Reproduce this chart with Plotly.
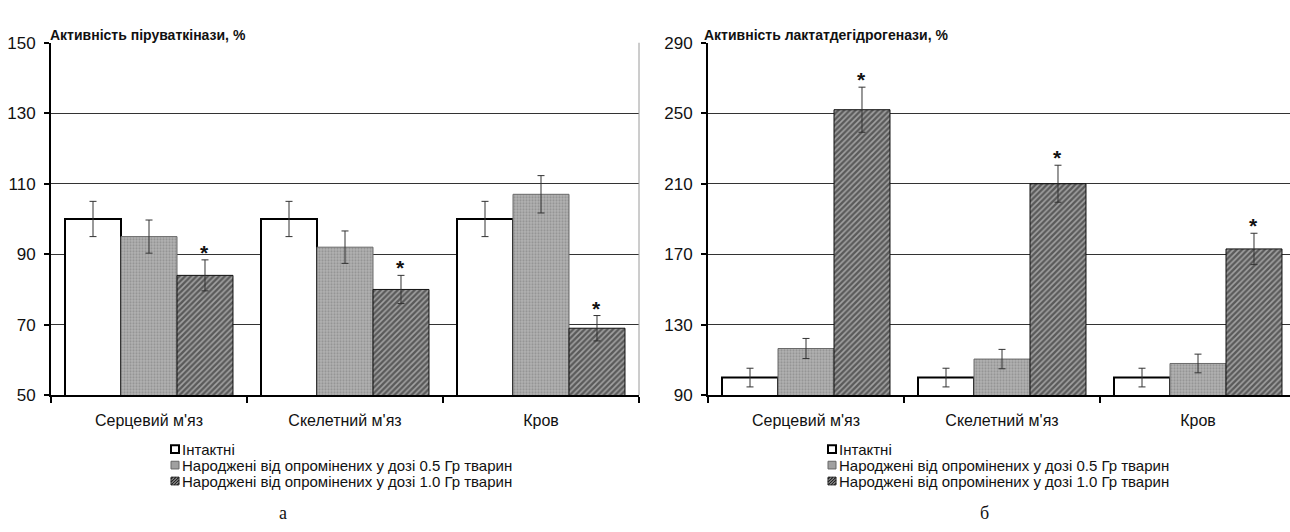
import plotly.graph_objects as go

W, H = 1290, 532

categories = ["Серцевий м'яз", "Скелетний м'яз", "Кров"]
series_names = ["Інтактні",
                "Народжені від опромінених у дозі 0.5 Гр тварин",
                "Народжені від опромінених у дозі 1.0 Гр тварин"]

# Panel a: pyruvate kinase activity, %
pk_intact = [100, 100, 100]
pk_intact_err = [5.0, 5.0, 5.0]
pk_05 = [95, 92, 107]
pk_05_err = [4.7, 4.6, 5.3]
pk_10 = [84, 80, 69]
pk_10_err = [4.4, 4.0, 3.6]

# Panel b: lactate dehydrogenase activity, %
ldh_intact = [100, 100, 100]
ldh_intact_err = [5.3, 5.3, 5.3]
ldh_05 = [116.5, 110.5, 108]
ldh_05_err = [5.7, 5.5, 5.3]
ldh_10 = [252, 210, 173]
ldh_10_err = [12.8, 10.5, 8.9]

pk_ticks = [50, 70, 90, 110, 130, 150]
ldh_ticks = [90, 130, 170, 210, 250, 290]

titles = ["Активність піруваткінази, %", "Активність лактатдегідрогенази, %"]
panel_labels = ["а", "б"]

FONT = "Liberation Sans, Arial, sans-serif"
BARGAP = 0.143
BAR_W = (1 - BARGAP) / 3


def px2x(p):
    return p / W


def px2y(p):
    return 1 - p / H


styles = [
    dict(color="white", line=dict(color="black", width=2)),
    dict(color="#a4a4a4", line=dict(color="#6a6a6a", width=1),
         pattern=dict(shape=".", fgcolor="#6e6e6e", bgcolor="#b2b2b2", size=3, solidity=0.4)),
    dict(color="#444", line=dict(color="#111", width=1),
         pattern=dict(shape="/", fgcolor="#121212", bgcolor="#a2a2a2", size=4, solidity=0.6)),
]

fig = go.Figure()

panels = [
    ([pk_intact, pk_05, pk_10], [pk_intact_err, pk_05_err, pk_10_err], "x", "y"),
    ([ldh_intact, ldh_05, ldh_10], [ldh_intact_err, ldh_05_err, ldh_10_err], "x2", "y2"),
]

annotations = []
for pi, (vals, errs, xa, ya) in enumerate(panels):
    for si in range(3):
        fig.add_trace(go.Bar(
            x=categories, y=vals[si], name=series_names[si],
            marker=styles[si], xaxis=xa, yaxis=ya, showlegend=False,
            error_y=dict(type="data", array=errs[si], visible=True,
                         color="#333", thickness=1, width=3.5),
            offsetgroup=str(si),
        ))
    # significance stars on the 1.0 Gy series
    for ci in range(3):
        annotations.append(dict(
            x=ci + BAR_W, y=vals[2][ci] + errs[2][ci], xref=xa, yref=ya,
            text="<b>*</b>", showarrow=False, yanchor="bottom", yshift=-6,
            font=dict(family=FONT, size=21, color="#111")))

# axes
x_domains = [[px2x(51), px2x(639)], [px2x(708), 1.0]]
x_ranges = [[-0.5, 2.5], [-0.5, -0.5 + (W - 708) / 196.0]]
y_dom = [px2y(400.5), px2y(35)]
y_cfg = [(pk_ticks, [50, 150]), (ldh_ticks, [90, 290])]

for i in range(2):
    sfx = "" if i == 0 else str(i + 1)
    fig.layout["xaxis" + sfx] = dict(
        domain=x_domains[i], range=x_ranges[i], type="category",
        anchor="y" + sfx, showline=True, linecolor="black", linewidth=2,
        ticks="outside", tickson="boundaries", ticklen=6, tickwidth=2, tickcolor="black",
        showgrid=False, tickfont=dict(family=FONT, size=16, color="#111"),
        ticklabelstandoff=10, fixedrange=True)
    fig.layout["yaxis" + sfx] = dict(
        domain=y_dom, range=y_cfg[i][1], tickvals=y_cfg[i][0],
        anchor="x" + sfx, showline=True, linecolor="black", linewidth=2,
        ticks="outside", ticklen=5, tickwidth=1.5, tickcolor="black",
        showgrid=True, gridcolor="#333333", gridwidth=1, zeroline=False,
        tickfont=dict(family=FONT, size=17, color="#111"),
        ticklabelstandoff=5, fixedrange=True)

# titles
title_x = [48, 702]
for i in range(2):
    annotations.append(dict(
        x=px2x(title_x[i]), y=px2y(27), xref="paper", yref="paper",
        xanchor="left", yanchor="middle", showarrow=False,
        text="<b>" + titles[i] + "</b>",
        font=dict(family=FONT, size=14, color="#111")))

# manual legends
shapes = [dict(type="line", xref="x domain", yref="y domain", x0=1, x1=1, y0=0, y1=1,
               line=dict(color="#9a9a9a", width=1))]
legend_box_x = [171, 828]
row_y = [456.5, 473, 489.5]
box_fill = ["white", "#a0a0a0", "#b4b4b4"]
box_line = [dict(color="black", width=2), dict(color="#666", width=1), dict(color="#222", width=1)]
for li in range(2):
    bx = legend_box_x[li]
    for si in range(3):
        cy = row_y[si]
        shapes.append(dict(type="rect", xref="paper", yref="paper",
                           x0=px2x(bx), x1=px2x(bx + 8), y0=px2y(cy + 4), y1=px2y(cy - 4),
                           fillcolor=box_fill[si], line=box_line[si]))
        if si == 2:
            # hatching inside the small legend swatch
            for o in (0, 3, 6):
                shapes.append(dict(type="line", xref="paper", yref="paper",
                                   x0=px2x(bx + o), y0=px2y(cy + 4), x1=px2x(bx + 8), y1=px2y(cy - 4 + o),
                                   line=dict(color="#222", width=1.3)))
                if o:
                    shapes.append(dict(type="line", xref="paper", yref="paper",
                                       x0=px2x(bx), y0=px2y(cy + 4 - o), x1=px2x(bx + 8 - o), y1=px2y(cy - 4),
                                       line=dict(color="#222", width=1.3)))
        annotations.append(dict(
            x=px2x(bx + 9), y=px2y(cy), xref="paper", yref="paper",
            xanchor="left", yanchor="middle", showarrow=False,
            text=series_names[si], font=dict(family=FONT, size=15, color="#111")))

# panel letters
panel_x = [283, 984]
for i in range(2):
    annotations.append(dict(
        x=px2x(panel_x[i]), y=px2y(523), xref="paper", yref="paper",
        xanchor="center", yanchor="middle", showarrow=False, text=panel_labels[i],
        font=dict(family="Liberation Serif, Times New Roman, serif", size=18, color="#111")))

fig.update_layout(
    width=W, height=H, margin=dict(l=0, r=0, t=0, b=0),
    paper_bgcolor="white", plot_bgcolor="white",
    barmode="group", bargap=BARGAP, bargroupgap=0,
    annotations=annotations, shapes=shapes, showlegend=False,
)

fig.write_html("out.html", config={"displayModeBar": False},
               post_script="document.body.style.margin='0';document.body.style.overflow='hidden';")
